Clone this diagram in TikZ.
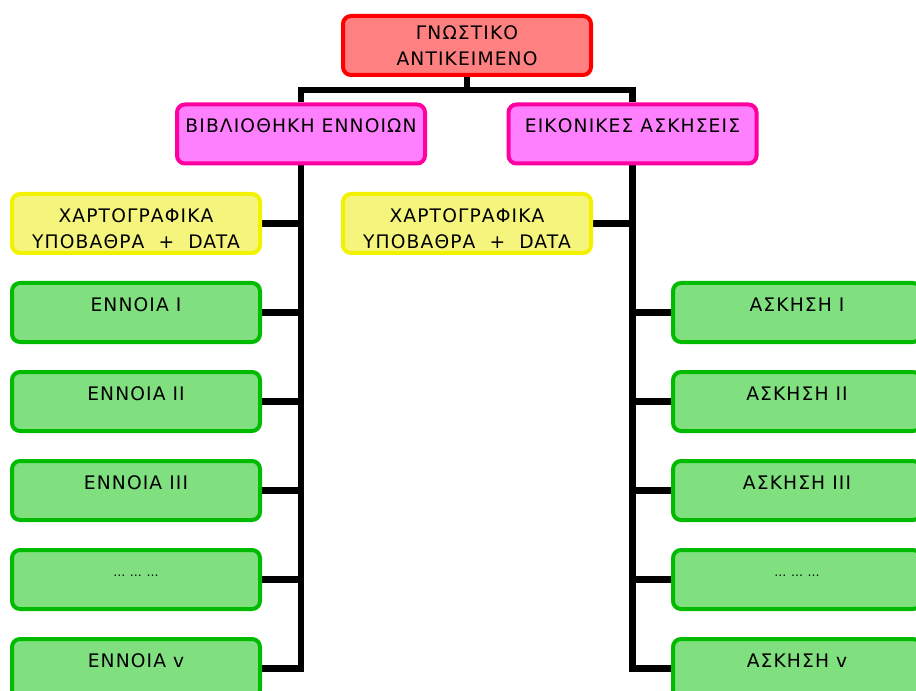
\documentclass[tikz,border=0pt]{standalone}
\usepackage{fontspec}
\usetikzlibrary{backgrounds}
\newfontfamily\boxfont[LetterSpace=6]{DejaVu Sans}
\definecolor{rootfill}{HTML}{FF8080}
\definecolor{rootline}{HTML}{FF0000}
\definecolor{pinkfill}{HTML}{FF80FF}
\definecolor{pinkline}{HTML}{FF00A0}
\definecolor{yelfill}{HTML}{F5F57E}
\definecolor{yelline}{HTML}{F2F200}
\definecolor{grnfill}{HTML}{80E080}
\definecolor{grnline}{HTML}{00BB00}
\tikzset{
  px/.style={x=0.75pt,y=-0.75pt},
  box/.style={rectangle, rounded corners=6pt, line width=3pt,
    minimum width=186pt, minimum height=44.25pt, inner sep=0pt,
    align=center, font=\boxfont\fontsize{14}{19.5}\selectfont},
  rootbox/.style={box, draw=rootline, fill=rootfill},
  catbox/.style={box, draw=pinkline, fill=pinkfill},
  mapbox/.style={box, draw=yelline, fill=yelfill},
  itembox/.style={box, draw=grnline, fill=grnfill},
  conn/.style={draw=black, line width=5pt, line join=miter},
}
% two centred lines, set slightly lower than the box centre
\newcommand{\twolines}[2]{\raisebox{-5pt}[\height][\depth]{%
  \begin{tabular}{@{}c@{}}#1\\#2\end{tabular}}}
\newcommand{\gaps}{\raisebox{3pt}[\height][\depth]{\fontsize{9}{19.5}\selectfont …\ …\ …}}
\begin{document}
\begin{tikzpicture}[px]
\useasboundingbox (0,0) rectangle (916,691);

% root and the two branches
\node[rootbox] (root) at (467,45.5) {ΓΝΩΣΤΙΚΟ\\ΑΝΤΙΚΕΙΜΕΝΟ};
\node[catbox] (lib) at (301,134) {\twolines{ΒΙΒΛΙΟΘΗΚΗ ΕΝΝΟΙΩΝ}{~}};
\node[catbox] (ex) at (632.5,134) {\twolines{ΕΙΚΟΝΙΚΕΣ ΑΣΚΗΣΕΙΣ}{~}};

% map data boxes
\node[mapbox] (mapL) at (136,223.5) {\twolines{ΧΑΡΤΟΓΡΑΦΙΚΑ}{ΥΠΟΒΑΘΡΑ\ \ +\ \ DATA}};
\node[mapbox] (mapR) at (467,223.5) {\twolines{ΧΑΡΤΟΓΡΑΦΙΚΑ}{ΥΠΟΒΑΘΡΑ\ \ +\ \ DATA}};

% concepts
\node[itembox] (c1) at (136,312.5) {\twolines{ΕΝΝΟΙΑ I}{~}};
\node[itembox] (c2) at (136,401.5) {\twolines{ΕΝΝΟΙΑ II}{~}};
\node[itembox] (c3) at (136,490.5) {\twolines{ΕΝΝΟΙΑ III}{~}};
\node[itembox] (c4) at (136,579.5) {\gaps};
\node[itembox] (c5) at (136,668.5) {\twolines{ΕΝΝΟΙΑ v}{~}};

% exercises
\node[itembox] (e1) at (797,312.5) {\twolines{ΑΣΚΗΣΗ I}{~}};
\node[itembox] (e2) at (797,401.5) {\twolines{ΑΣΚΗΣΗ II}{~}};
\node[itembox] (e3) at (797,490.5) {\twolines{ΑΣΚΗΣΗ III}{~}};
\node[itembox] (e4) at (797,579.5) {\gaps};
\node[itembox] (e5) at (797,668.5) {\twolines{ΑΣΚΗΣΗ v}{~}};

\begin{scope}[on background layer]
% top bus
\coordinate (busL) at (301,90);
\coordinate (busR) at (632.5,90);
\draw[conn] (lib.north) -- (busL) -- (busR) -- (ex.north);
\draw[conn] (root.south) -- (root.south |- busL);

% left trunk and branches
\draw[conn] (lib.south) |- (c5.east);
\foreach \n in {mapL,c1,c2,c3,c4}
  \draw[conn] (\n.east) -- (\n.east -| lib.south);

% right trunk and branches
\draw[conn] (ex.south) |- (e5.west);
\draw[conn] (mapR.east) -- (mapR.east -| ex.south);
\foreach \n in {e1,e2,e3,e4}
  \draw[conn] (\n.west -| ex.south) -- (\n.west);
\end{scope}
\end{tikzpicture}
\end{document}
